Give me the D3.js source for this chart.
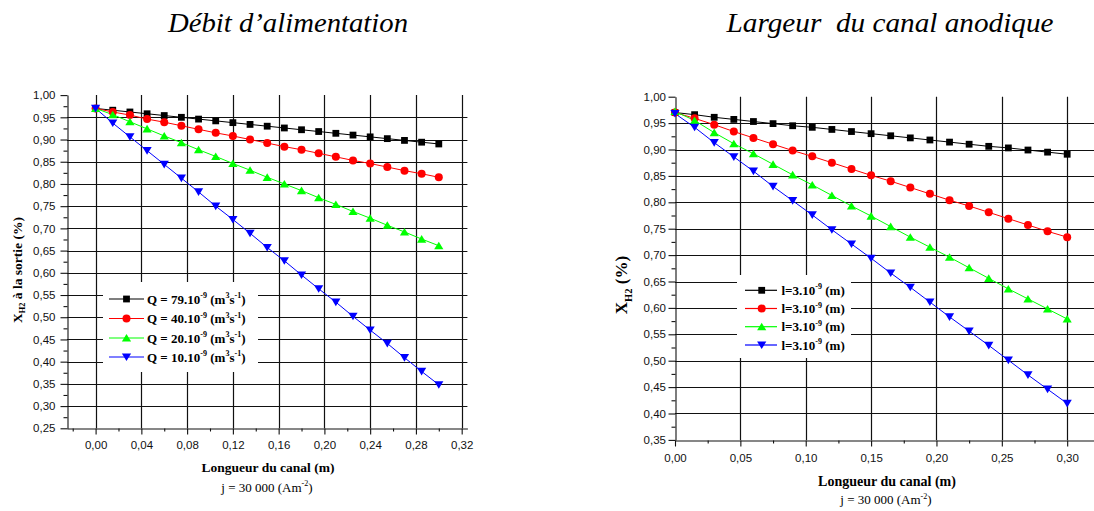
<!DOCTYPE html>
<html>
<head>
<meta charset="utf-8">
<script src="https://cdn.jsdelivr.net/npm/d3@7"></script>
<style>
  html, body { margin: 0; padding: 0; background: #ffffff; }
  svg { display: block; }
</style>
</head>
<body>
<svg id="chart" width="1094" height="511"></svg>
<script>
// Channel length positions (m)
const lengthX = [0.000, 0.015, 0.030, 0.045, 0.060, 0.075, 0.090, 0.105, 0.120, 0.135,
                 0.150, 0.165, 0.180, 0.195, 0.210, 0.225, 0.240, 0.255, 0.270, 0.285, 0.300];

// Hydrogen fraction at outlet for each feed flow rate Q
const xh2Q79 = [0.970, 0.966, 0.962, 0.958, 0.954, 0.950, 0.946, 0.942, 0.938, 0.934, 0.930,
                0.926, 0.922, 0.918, 0.914, 0.910, 0.906, 0.902, 0.898, 0.894, 0.890];
const xh2Q40 = [0.970, 0.962, 0.955, 0.946, 0.939, 0.931, 0.923, 0.915, 0.908, 0.900, 0.892,
                0.884, 0.877, 0.869, 0.861, 0.853, 0.846, 0.838, 0.830, 0.823, 0.815];
const xh2Q20 = [0.970, 0.956, 0.940, 0.924, 0.908, 0.893, 0.877, 0.862, 0.846, 0.831, 0.815,
                0.800, 0.785, 0.769, 0.754, 0.738, 0.723, 0.707, 0.692, 0.676, 0.661];
const xh2Q10 = [0.970, 0.937, 0.906, 0.875, 0.844, 0.813, 0.782, 0.750, 0.720, 0.689, 0.657,
                0.627, 0.595, 0.564, 0.534, 0.502, 0.471, 0.441, 0.409, 0.378, 0.348];

// Hydrogen fraction for each anode channel width
const xh2L1 = [0.970, 0.966, 0.961, 0.957, 0.953, 0.949, 0.945, 0.942, 0.938, 0.934, 0.930,
               0.926, 0.922, 0.918, 0.914, 0.910, 0.906, 0.903, 0.899, 0.895, 0.891];
const xh2L2 = [0.970, 0.959, 0.947, 0.934, 0.922, 0.910, 0.898, 0.887, 0.875, 0.863, 0.851,
               0.840, 0.828, 0.816, 0.804, 0.793, 0.781, 0.769, 0.757, 0.745, 0.734];
const xh2L3 = [0.972, 0.955, 0.932, 0.911, 0.892, 0.872, 0.852, 0.833, 0.813, 0.793, 0.774,
               0.754, 0.734, 0.715, 0.696, 0.676, 0.656, 0.636, 0.617, 0.598, 0.579];
const xh2L4 = [0.968, 0.942, 0.913, 0.886, 0.859, 0.830, 0.803, 0.776, 0.748, 0.721, 0.694,
               0.666, 0.639, 0.611, 0.583, 0.556, 0.529, 0.501, 0.473, 0.446, 0.419];

// Axis ticks
const leftXTicks  = [0.00, 0.04, 0.08, 0.12, 0.16, 0.20, 0.24, 0.28, 0.32];
const leftXMinor  = [-0.02, 0.02, 0.06, 0.10, 0.14, 0.18, 0.22, 0.26, 0.30];
const leftYTicks  = [0.25, 0.30, 0.35, 0.40, 0.45, 0.50, 0.55, 0.60, 0.65, 0.70, 0.75, 0.80, 0.85, 0.90, 0.95, 1.00];
const rightXTicks = [0.00, 0.05, 0.10, 0.15, 0.20, 0.25, 0.30];
const rightXMinor = [0.025, 0.075, 0.125, 0.175, 0.225, 0.275, 0.325];
const rightYTicks = [0.35, 0.40, 0.45, 0.50, 0.55, 0.60, 0.65, 0.70, 0.75, 0.80, 0.85, 0.90, 0.95, 1.00];

// Legend labels
const flowLabels  = ["79", "40", "20", "10"];
const widthLabels = ["3", "3", "3", "3"];

const seriesColors  = ["#000000", "#ff0000", "#00ff00", "#0000ff"];
const seriesSymbols = ["square", "circle", "triUp", "triDown"];

const svg = d3.select("#chart");
const SERIF = "'Liberation Serif', 'Times New Roman', serif";
const SANS = "'Liberation Sans', Arial, sans-serif";
const fmt = v => d3.format(".2f")(v).replace(".", ",");

function symbolPath(kind) {
  switch (kind) {
    case "square":  return "M-3.4,-3.4H3.4V3.4H-3.4Z";
    case "circle":  { const p = d3.path(); p.arc(0, 0, 4, 0, 2 * Math.PI); return p.toString(); }
    case "triUp":   return "M0,-4L4.6,3.6L-4.6,3.6Z";
    case "triDown": return "M0,4L4.6,-3.6L-4.6,-3.6Z";
  }
}

// Midpoints between major ticks for minor y ticks
function minorBetween(ticks) {
  const out = [];
  for (let i = 0; i < ticks.length - 1; i++) out.push((ticks[i] + ticks[i + 1]) / 2);
  return out;
}

// Appends rich text (superscript / subscript runs) to a <text>
function richText(sel, parts, baseSize) {
  let shift = 0;
  parts.forEach(p => {
    const target = p.sup ? -0.42 * baseSize : p.sub ? 0.28 * baseSize : 0;
    const t = sel.append("tspan").text(p.t).attr("dy", target - shift);
    if (p.sup || p.sub) t.attr("font-size", baseSize * 0.62);
    shift = target;
  });
}

function drawPanel(p) {
  const g = svg.append("g");
  const x = d3.scaleLinear().domain(p.xDomain).range(p.xRange);
  const y = d3.scaleLinear().domain(p.yDomain).range(p.yRange);
  const px = v => Math.round(v) + 0.5;
  const [x0, x1] = p.xRange;
  const [yb, yt] = p.yRange;

  // Grid
  const grid = g.append("g").attr("stroke", "#111").attr("stroke-width", 1.2);
  grid.selectAll("line.h")
    .data(p.yTicks.filter(v => v > p.yDomain[0] + 1e-9 && v < p.yDomain[1] - 1e-9))
    .join("line").attr("class", "h")
    .attr("x1", x0).attr("x2", x1)
    .attr("y1", d => px(y(d))).attr("y2", d => px(y(d)));
  grid.selectAll("line.v")
    .data(p.xTicks.filter(v => x(v) > x0 + 2))
    .join("line").attr("class", "v")
    .attr("x1", d => px(x(d))).attr("x2", d => px(x(d)))
    .attr("y1", yb).attr("y2", yt);

  // Legend background hides the grid
  g.append("rect")
    .attr("x", p.legend.x).attr("y", p.legend.y)
    .attr("width", p.legend.w).attr("height", p.legend.h)
    .attr("fill", "#ffffff");

  // Axes
  const xAxisY = px(yb);
  const yAxisX = px(x0);
  const axX = g.append("g").attr("transform", `translate(0,${xAxisY})`)
    .call(d3.axisBottom(x).tickValues(p.xTicks).tickFormat(fmt).tickSize(6).tickSizeOuter(0).tickPadding(p.xPad));
  g.append("g").attr("transform", `translate(0,${xAxisY})`)
    .call(d3.axisBottom(x).tickValues(p.xMinor).tickFormat("").tickSize(3).tickSizeOuter(0))
    .call(s => s.select(".domain").remove());
  const axY = g.append("g").attr("transform", `translate(${yAxisX},0)`)
    .call(d3.axisLeft(y).tickValues(p.yTicks).tickFormat(fmt).tickSize(7).tickSizeOuter(0).tickPadding(p.yPad));
  g.append("g").attr("transform", `translate(${yAxisX},0)`)
    .call(d3.axisLeft(y).tickValues(minorBetween(p.yTicks)).tickFormat("").tickSize(4).tickSizeOuter(0))
    .call(s => s.select(".domain").remove());
  g.selectAll(".tick line, .domain").attr("stroke", "#111").attr("stroke-width", 1.1);
  [axX, axY].forEach(a => a.selectAll("text")
    .attr("font-family", SANS).attr("font-size", 11.5).attr("fill", "#111"));

  // Series
  const line = d3.line().x((d, i) => x(lengthX[i])).y(d => y(d));
  p.series.forEach((vals, k) => {
    g.append("path").datum(vals)
      .attr("d", line).attr("fill", "none")
      .attr("stroke", seriesColors[k]).attr("stroke-width", 1);
  });
  p.series.forEach((vals, k) => {
    g.append("g").selectAll("path").data(vals).join("path")
      .attr("transform", (d, i) => `translate(${x(lengthX[i])},${y(d)})`)
      .attr("d", symbolPath(seriesSymbols[k]))
      .attr("fill", seriesColors[k]);
  });

  // Legend entries
  const lg = p.legend;
  p.labels.forEach((lab, k) => {
    const ry = lg.rows[k];
    g.append("line").attr("x1", lg.lineX[0]).attr("x2", lg.lineX[1])
      .attr("y1", ry).attr("y2", ry)
      .attr("stroke", seriesColors[k]).attr("stroke-width", 1.2);
    g.append("path").attr("transform", `translate(${lg.symX},${ry})`)
      .attr("d", symbolPath(seriesSymbols[k])).attr("fill", seriesColors[k]);
    const t = g.append("text").attr("x", lg.textX).attr("y", ry + 4.5)
      .attr("font-family", SERIF).attr("font-weight", "bold").attr("font-size", 13).attr("fill", "#000");
    richText(t, p.legendParts(lab), 13);
  });

  // Title above panel
  svg.append("text")
    .attr("x", p.title.x).attr("y", p.title.y)
    .attr("text-anchor", "middle")
    .attr("font-family", SERIF).attr("font-style", "italic").attr("font-size", 27)
    .attr("textLength", p.title.len).attr("lengthAdjust", "spacingAndGlyphs")
    .attr("fill", "#000")
    .style("white-space", "pre")
    .text(p.title.text);

  // Axis titles
  const yt0 = svg.append("text")
    .attr("transform", `translate(${p.yTitle.x},${p.yTitle.y}) rotate(-90)`)
    .attr("text-anchor", "middle")
    .attr("font-family", SERIF).attr("font-weight", "bold").attr("font-size", p.yTitle.size).attr("fill", "#000");
  richText(yt0, p.yTitle.parts, p.yTitle.size);

  svg.append("text")
    .attr("x", p.xTitle.x).attr("y", p.xTitle.y)
    .attr("text-anchor", "middle")
    .attr("font-family", SERIF).attr("font-weight", "bold").attr("font-size", p.xTitle.size).attr("fill", "#000")
    .text("Longueur du canal (m)");
  const jt = svg.append("text")
    .attr("x", p.jLine.x).attr("y", p.jLine.y)
    .attr("text-anchor", "middle")
    .attr("font-family", SERIF).attr("font-size", 13).attr("fill", "#000");
  richText(jt, [{ t: "j = 30 000 (Am" }, { t: "-2", sup: true }, { t: ")" }], 13);
}

drawPanel({
  xDomain: [-0.025, 0.325], xRange: [67, 467.4],
  yDomain: [0.25, 1.00], yRange: [428.3, 95.1],
  xTicks: leftXTicks, xMinor: leftXMinor, yTicks: leftYTicks,
  xPad: 6, yPad: 5,
  series: [xh2Q79, xh2Q40, xh2Q20, xh2Q10],
  labels: flowLabels,
  legendParts: lab => [{ t: `Q = ${lab}.10` }, { t: "-9", sup: true }, { t: " (m" },
                       { t: "3", sup: true }, { t: "s" }, { t: "-1", sup: true }, { t: ")" }],
  legend: { x: 103, y: 282, w: 155, h: 90, rows: [299, 318.5, 338, 357],
            lineX: [109, 144], symX: 126.5, textX: 147 },
  title: { x: 288, y: 32, len: 240, text: "Débit d’alimentation" },
  yTitle: { x: 21.7, y: 270, size: 13.5,
            parts: [{ t: "X" }, { t: "H2", sub: true }, { t: " à la sortie (%)" }] },
  xTitle: { x: 268, y: 471.7, size: 13.5 },
  jLine: { x: 267, y: 491.7 }
});

drawPanel({
  xDomain: [0.00, 0.33], xRange: [675, 1106.4],
  yDomain: [0.35, 1.00], yRange: [439.9, 96.7],
  xTicks: rightXTicks, xMinor: rightXMinor, yTicks: rightYTicks,
  xPad: 7.5, yPad: 2.5,
  series: [xh2L1, xh2L2, xh2L3, xh2L4],
  labels: widthLabels,
  legendParts: lab => [{ t: `l=${lab}.10` }, { t: "-9", sup: true }, { t: " (m)" }],
  legend: { x: 737, y: 275, w: 114, h: 83, rows: [290.3, 308.5, 326.7, 345],
            lineX: [745, 777], symX: 761.7, textX: 781.5 },
  title: { x: 890, y: 32, len: 327, text: "Largeur  du canal anodique" },
  yTitle: { x: 627, y: 285, size: 17,
            parts: [{ t: "X" }, { t: "H2", sub: true }, { t: " (%)" }] },
  xTitle: { x: 887, y: 486, size: 14 },
  jLine: { x: 886, y: 504.3 }
});
</script>
</body>
</html>
